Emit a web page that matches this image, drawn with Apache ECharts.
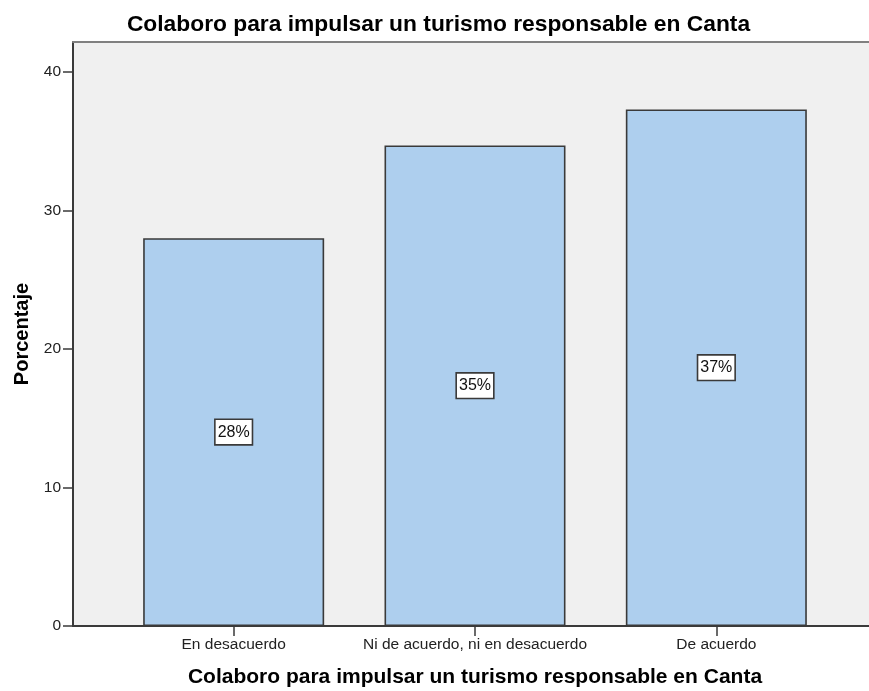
<!DOCTYPE html>
<html>
<head>
<meta charset="utf-8">
<title>Colaboro para impulsar un turismo responsable en Canta</title>
<script src="https://cdn.jsdelivr.net/npm/echarts@6/dist/echarts.min.js"></script>
<style>
  html, body { margin: 0; padding: 0; background: #ffffff; }
  #chart { width: 869px; height: 691px; }
</style>
</head>
<body>
<div id="chart"></div>
<script>
// Survey answers and their percentage share
const categories = ['En desacuerdo', 'Ni de acuerdo, ni en desacuerdo', 'De acuerdo'];
const percentages = [28.0, 34.7, 37.3];
const yTicks = [0, 10, 20, 30, 40];

const chartTitle = 'Colaboro para impulsar un turismo responsable en Canta';
const xName = 'Colaboro para impulsar un turismo responsable en Canta';
const yName = 'Porcentaje';

const FONT = '"Liberation Sans", Arial, sans-serif';
const Y_MAX = 42.17;

const chart = echarts.init(document.getElementById('chart'), null, { renderer: 'canvas' });

chart.setOption({
  animation: false,
  backgroundColor: '#ffffff',
  title: [
    {
      text: chartTitle,
      left: 433.5, top: 8, textAlign: 'center',
      textStyle: { fontFamily: FONT, fontSize: 22.8, fontWeight: 'bold', color: '#000' }
    },
    {
      text: xName,
      left: 470, top: 662, textAlign: 'center',
      textStyle: { fontFamily: FONT, fontSize: 21, fontWeight: 'bold', color: '#000' }
    }
  ],
  grid: [
    // frame with the grey backdrop
    { left: 73, top: 42, right: -10, bottom: 65, show: true, backgroundColor: '#f0f0f0', borderWidth: 0 },
    // inner band holding the bars
    { left: 113, top: 42, right: 32, bottom: 65 }
  ],
  xAxis: [
    {
      gridIndex: 0, type: 'value', min: 0, max: 1, position: 'bottom',
      axisLine: { show: true, lineStyle: { color: '#3a3a3a', width: 2 } },
      axisTick: { show: false }, axisLabel: { show: false }, splitLine: { show: false }
    },
    {
      gridIndex: 0, type: 'value', min: 0, max: 1, position: 'top',
      axisLine: { show: true, lineStyle: { color: '#808080', width: 2 } },
      axisTick: { show: false }, axisLabel: { show: false }, splitLine: { show: false }
    },
    {
      gridIndex: 1, type: 'category', data: categories, position: 'bottom',
      boundaryGap: true,
      axisLine: { show: false },
      axisTick: { show: true, alignWithLabel: true, length: 10, lineStyle: { color: '#3a3a3a', width: 1.5 } },
      axisLabel: { fontFamily: FONT, fontSize: 15.5, color: '#222', margin: 11, interval: 0 },
      splitLine: { show: false }
    }
  ],
  yAxis: [
    {
      gridIndex: 0, type: 'value', min: 0, max: Y_MAX,
      name: yName, nameLocation: 'middle', nameGap: 38, nameRotate: 90,
      nameTextStyle: { fontFamily: FONT, fontSize: 20, fontWeight: 'bold', color: '#000' },
      axisLine: { show: true, lineStyle: { color: '#3a3a3a', width: 2 } },
      axisTick: { show: true, length: 10, customValues: yTicks, lineStyle: { color: '#3a3a3a', width: 1.5 } },
      axisLabel: { customValues: yTicks, fontFamily: FONT, fontSize: 15.5, color: '#222', margin: 12 },
      splitLine: { show: false }
    },
    {
      gridIndex: 1, type: 'value', min: 0, max: Y_MAX, show: false
    }
  ],
  series: [
    {
      type: 'bar',
      xAxisIndex: 2, yAxisIndex: 1,
      data: percentages,
      barWidth: 181,
      itemStyle: { color: '#aecfee', borderColor: '#3a3a3a', borderWidth: 1.6 },
      label: {
        show: true, position: 'inside',
        formatter: p => Math.round(p.value) + '%',
        fontFamily: FONT, fontSize: 16, color: '#111',
        backgroundColor: '#ffffff', borderColor: '#3a3a3a', borderWidth: 1.6,
        padding: [4, 2, 4, 2]
      }
    }
  ]
});
</script>
</body>
</html>
